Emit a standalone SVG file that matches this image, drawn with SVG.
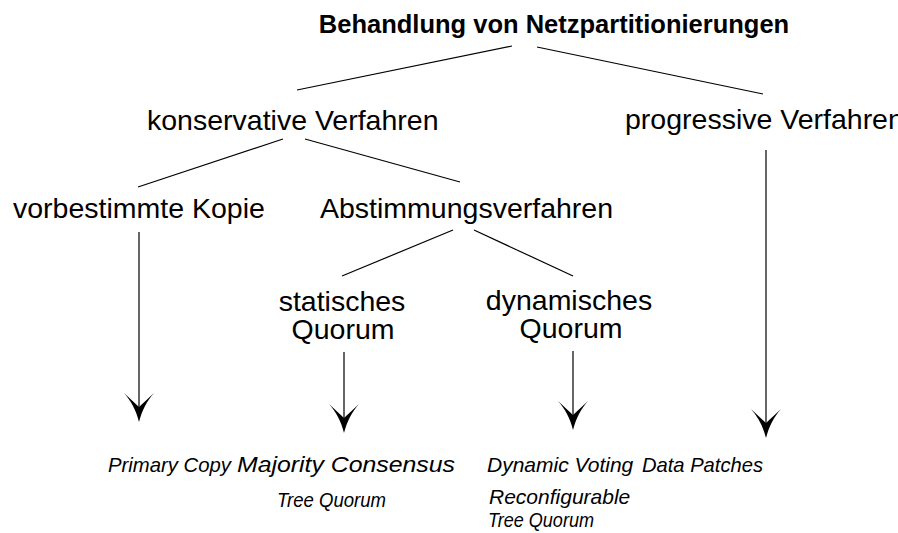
<svg xmlns="http://www.w3.org/2000/svg" width="898" height="533" viewBox="0 0 898 533">
<style>
text{font-family:"Liberation Sans",Arial,sans-serif;fill:#000}
.t{font-size:25.5px;font-weight:bold}
.n{font-size:28.5px}
.l{font-size:21px;font-style:italic}
.s{font-size:20px;font-style:italic}
.c{stroke:#000;stroke-width:1.2;fill:none}
</style>
<defs>
<path id="ah" d="M0,0 C-3,-12 -8,-21 -15,-29 L0,-15 L15,-29 C8,-21 3,-12 0,0 Z" fill="#000"/>
</defs>
<rect width="898" height="533" fill="#fff"/>
<g id="connectors">
<line class="c" x1="512" y1="46" x2="297" y2="90"/>
<line class="c" x1="537" y1="47" x2="763" y2="94"/>
<line class="c" x1="283" y1="139" x2="138" y2="187"/>
<line class="c" x1="305" y1="139" x2="460" y2="182"/>
<line class="c" x1="453" y1="230" x2="342" y2="276"/>
<line class="c" x1="474" y1="230" x2="573" y2="276"/>
<line class="c" x1="139" y1="232" x2="139" y2="408"/>
<use href="#ah" x="139" y="422"/>
<line class="c" x1="344" y1="352" x2="344" y2="419"/>
<use href="#ah" x="344" y="433"/>
<line class="c" x1="573" y1="351" x2="573" y2="416"/>
<use href="#ah" x="573" y="430"/>
<line class="c" x1="766" y1="150" x2="766" y2="424"/>
<use href="#ah" x="766" y="438"/>
</g>
<g id="root"><text class="t" x="554" y="33" text-anchor="middle">Behandlung von Netzpartitionierungen</text></g>
<g id="konservativ"><text class="n" x="147" y="130">konservative Verfahren</text></g>
<g id="progressiv"><text class="n" x="625" y="128.5">progressive Verfahren</text></g>
<g id="vorbestimmt"><text class="n" x="13" y="218">vorbestimmte Kopie</text></g>
<g id="abstimmung"><text class="n" x="320" y="218">Abstimmungsverfahren</text></g>
<g id="statisch"><text class="n" x="342" y="311" text-anchor="middle">statisches</text><text class="n" x="343" y="339" text-anchor="middle">Quorum</text></g>
<g id="dynamisch"><text class="n" x="569" y="310" text-anchor="middle">dynamisches</text><text class="n" x="571" y="338" text-anchor="middle">Quorum</text></g>
<g id="primary"><text class="l" x="108" y="472" textLength="123" lengthAdjust="spacingAndGlyphs">Primary Copy</text></g>
<g id="majority"><text class="l" x="237" y="472" style="font-size:22px" textLength="218" lengthAdjust="spacingAndGlyphs">Majority Consensus</text><text class="s" x="277" y="507" textLength="109" lengthAdjust="spacingAndGlyphs">Tree Quorum</text></g>
<g id="dynvoting"><text class="l" x="487" y="472">Dynamic Voting</text><text class="l" x="489" y="504">Reconfigurable</text><text class="s" x="488" y="527" textLength="106" lengthAdjust="spacingAndGlyphs">Tree Quorum</text></g>
<g id="datapatches"><text class="l" x="642" y="472" textLength="121" lengthAdjust="spacingAndGlyphs">Data Patches</text></g>
</svg>
